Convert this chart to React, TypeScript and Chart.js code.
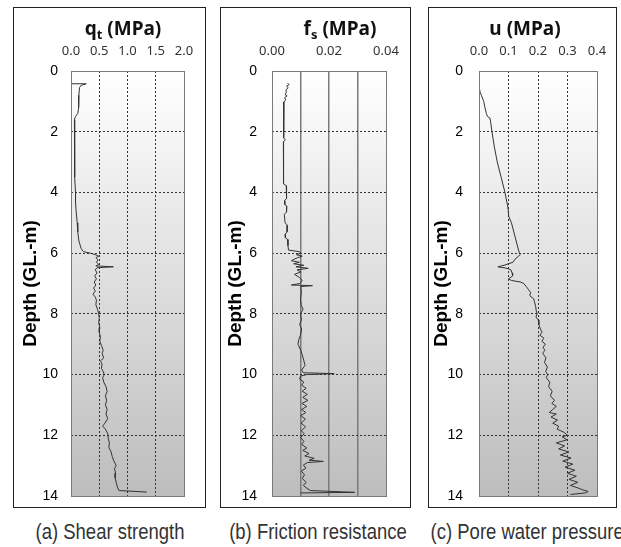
import React, { useEffect, useRef } from 'react';
import { Chart, registerables } from 'chart.js';

Chart.register(...registerables);

// Cone resistance q_t (MPa) against depth (m)
const qtDepth = [0.42, 0.42, 0.47, 0.55, 0.8, 1.0, 1.2, 1.4, 1.5, 1.6, 2.0, 2.5, 3.0, 3.5, 4.0, 4.3, 4.6, 5.0, 5.3, 5.6, 5.85, 5.95, 6.0, 6.05, 6.1, 6.15, 6.22, 6.3, 6.37, 6.42, 6.45, 6.48, 6.55, 6.65, 6.75, 6.85, 6.95, 7.05, 7.15, 7.25, 7.35, 7.45, 7.55, 7.7, 7.85, 8.0, 8.15, 8.3, 8.45, 8.6, 8.75, 8.9, 9.05, 9.2, 9.3, 9.45, 9.55, 9.65, 9.8, 9.9, 10.0, 10.1, 10.25, 10.4, 10.55, 10.7, 10.85, 11.0, 11.15, 11.3, 11.45, 11.6, 11.7, 11.8, 11.95, 12.1, 12.25, 12.4, 12.55, 12.7, 12.85, 13.0, 13.1, 13.25, 13.4, 13.55, 13.7, 13.82, 13.87];
const qtValue = [0.0, 0.27, 0.18, 0.15, 0.14, 0.14, 0.13, 0.12, 0.08, 0.06, 0.06, 0.06, 0.07, 0.07, 0.08, 0.08, 0.09, 0.11, 0.12, 0.14, 0.18, 0.22, 0.34, 0.43, 0.49, 0.44, 0.48, 0.45, 0.49, 0.44, 0.75, 0.46, 0.43, 0.46, 0.42, 0.45, 0.41, 0.44, 0.4, 0.43, 0.39, 0.43, 0.45, 0.44, 0.47, 0.49, 0.5, 0.49, 0.51, 0.5, 0.52, 0.51, 0.54, 0.57, 0.55, 0.58, 0.52, 0.55, 0.54, 0.57, 0.59, 0.56, 0.58, 0.62, 0.64, 0.61, 0.63, 0.61, 0.64, 0.62, 0.65, 0.6, 0.56, 0.61, 0.65, 0.66, 0.68, 0.67, 0.71, 0.73, 0.76, 0.8, 0.77, 0.79, 0.78, 0.8, 0.82, 0.85, 1.34];

// Sleeve friction f_s (MPa) against depth (m)
const fsDepth = [0.4, 0.45, 0.5, 0.55, 0.62, 0.7, 0.78, 0.82, 0.88, 0.95, 1.02, 1.5, 2.2, 2.27, 2.33, 3.0, 3.72, 3.78, 4.2, 4.27, 4.4, 4.45, 4.65, 4.72, 5.0, 5.08, 5.3, 5.38, 5.5, 5.55, 5.75, 5.9, 5.95, 6.0, 6.05, 6.1, 6.15, 6.2, 6.25, 6.3, 6.35, 6.4, 6.45, 6.5, 6.55, 6.62, 6.7, 6.8, 6.9, 7.0, 7.05, 7.07, 7.1, 7.3, 7.5, 7.7, 7.85, 8.0, 8.2, 8.35, 8.5, 8.7, 8.85, 9.0, 9.2, 9.35, 9.55, 9.7, 9.85, 9.94, 9.97, 10.0, 10.05, 10.15, 10.25, 10.35, 10.45, 10.55, 10.65, 10.75, 10.85, 10.95, 11.05, 11.15, 11.25, 11.35, 11.47, 11.6, 11.72, 11.85, 11.95, 12.07, 12.2, 12.3, 12.42, 12.5, 12.6, 12.68, 12.76, 12.82, 12.86, 12.9, 12.98, 13.08, 13.18, 13.3, 13.42, 13.55, 13.65, 13.75, 13.82, 13.88, 13.9];
const fsValue = [0.0055, 0.006, 0.0051, 0.0057, 0.0049, 0.005, 0.0046, 0.0053, 0.0044, 0.0048, 0.0042, 0.0041, 0.0041, 0.0047, 0.004, 0.004, 0.0041, 0.005, 0.0051, 0.0044, 0.0045, 0.0052, 0.0051, 0.0043, 0.0046, 0.0054, 0.0053, 0.0046, 0.0047, 0.0055, 0.0056, 0.0058, 0.0095, 0.0102, 0.0086, 0.0106, 0.009, 0.0078, 0.0068, 0.0096, 0.0076, 0.0112, 0.0084, 0.0127, 0.0088, 0.0101, 0.0079, 0.0096, 0.0106, 0.0098, 0.0068, 0.0142, 0.0101, 0.0103, 0.01, 0.0102, 0.0109, 0.01, 0.0103, 0.0097, 0.0104, 0.01, 0.0094, 0.0091, 0.0101, 0.0106, 0.0112, 0.0116, 0.0104, 0.011, 0.0218, 0.0122, 0.01, 0.0097, 0.0112, 0.0104, 0.012, 0.0106, 0.0124, 0.0108, 0.0126, 0.0105, 0.0122, 0.0104, 0.0119, 0.0101, 0.0117, 0.0102, 0.0118, 0.0103, 0.0113, 0.01, 0.0112, 0.0104, 0.0122, 0.0108, 0.013, 0.0115, 0.0148, 0.013, 0.018, 0.0124, 0.011, 0.0119, 0.0103, 0.0114, 0.0106, 0.012, 0.011, 0.0123, 0.0135, 0.029, 0.01];

// Pore water pressure u (MPa) against depth (m)
const uDepth = [0.52, 0.7, 0.8, 1.0, 1.2, 1.4, 1.5, 1.55, 1.65, 2.0, 2.5, 3.0, 3.5, 4.0, 4.5, 4.8, 5.0, 5.3, 5.6, 5.9, 6.05, 6.12, 6.2, 6.3, 6.4, 6.45, 6.5, 6.55, 6.65, 6.75, 6.85, 6.9, 6.95, 7.0, 7.1, 7.2, 7.3, 7.4, 7.5, 7.6, 7.75, 7.9, 8.0, 8.1, 8.2, 8.35, 8.5, 8.6, 8.7, 8.8, 8.9, 9.0, 9.1, 9.2, 9.3, 9.45, 9.6, 9.75, 9.9, 10.0, 10.1, 10.25, 10.4, 10.55, 10.7, 10.85, 10.95, 11.05, 11.15, 11.25, 11.3, 11.4, 11.5, 11.6, 11.7, 11.8, 11.9, 12.0, 12.05, 12.15, 12.25, 12.35, 12.45, 12.55, 12.65, 12.75, 12.85, 12.95, 13.05, 13.15, 13.25, 13.35, 13.45, 13.55, 13.65, 13.75, 13.8, 13.85, 13.9, 13.95];
const uValue = [0.0, 0.004, 0.008, 0.016, 0.02, 0.025, 0.029, 0.037, 0.039, 0.044, 0.052, 0.062, 0.075, 0.088, 0.098, 0.101, 0.11, 0.118, 0.126, 0.134, 0.139, 0.132, 0.122, 0.115, 0.085, 0.064, 0.095, 0.108, 0.112, 0.114, 0.1, 0.11, 0.14, 0.152, 0.16, 0.168, 0.175, 0.172, 0.185, 0.188, 0.192, 0.194, 0.197, 0.193, 0.201, 0.203, 0.208, 0.214, 0.206, 0.22, 0.213, 0.225, 0.217, 0.223, 0.216, 0.227, 0.222, 0.232, 0.226, 0.233, 0.228, 0.24, 0.236, 0.248, 0.242, 0.256, 0.247, 0.262, 0.25, 0.238, 0.262, 0.244, 0.266, 0.25, 0.27, 0.265, 0.288, 0.3, 0.282, 0.298, 0.262, 0.29, 0.27, 0.305, 0.276, 0.312, 0.284, 0.318, 0.292, 0.325, 0.3, 0.33, 0.305, 0.335, 0.31, 0.34, 0.352, 0.37, 0.36, 0.31];

const depthMax = 14;
const depthStep = 2;

const captions = ['(a) Shear strength', '(b) Friction resistance', '(c) Pore water pressure'];

type PanelSpec = {
  depth: number[];
  value: number[];
  xMax: number;
  xStep: number;
  decimals: number;
  labelEvery: number;
  solidVertical: boolean;
  box: { left: number; width: number };
  yWidth: number;
  padRight: number;
  yTickPad: number;
  yTitlePad: number;
};

const frame = {
  id: 'plotFrame',
  beforeDraw(chart: any) {
    const { ctx, chartArea: a } = chart;
    const g = ctx.createLinearGradient(0, a.top, 0, a.bottom);
    g.addColorStop(0, '#ffffff');
    g.addColorStop(1, '#bdbdbd');
    ctx.save();
    ctx.fillStyle = g;
    ctx.fillRect(a.left, a.top, a.right - a.left, a.bottom - a.top);
    ctx.restore();
  },
  afterDraw(chart: any) {
    const { ctx, chartArea: a } = chart;
    ctx.save();
    ctx.strokeStyle = '#7a7a7a';
    ctx.lineWidth = 1;
    ctx.strokeRect(Math.round(a.left) + 0.5, Math.round(a.top) + 0.5, Math.round(a.right - a.left), Math.round(a.bottom - a.top));
    ctx.restore();
  },
};

const BOX_TOP = 7;
const BOX_H = 501;

function Panel({ spec }: { spec: PanelSpec }) {
  const ref = useRef<HTMLCanvasElement>(null);
  const innerW = spec.box.width - 2;
  const innerH = BOX_H - 2;

  useEffect(() => {
    if (!ref.current) return;
    const edge = (c: any) => c.index === 0 || c.index === c.scale.ticks.length - 1;
    const chart = new Chart(ref.current, {
      type: 'scatter',
      data: {
        datasets: [
          {
            data: spec.depth.map((d, i) => ({ x: spec.value[i], y: d })),
            showLine: true,
            borderColor: '#333333',
            borderWidth: 1,
            pointRadius: 0,
            tension: 0,
          },
        ],
      },
      plugins: [frame],
      options: {
        animation: false,
        responsive: false,
        maintainAspectRatio: false,
        layout: { padding: { left: 0, top: 0, right: spec.padRight, bottom: 11 } },
        plugins: { legend: { display: false }, tooltip: { enabled: false } },
        scales: {
          x: {
            type: 'linear',
            position: 'top',
            min: 0,
            max: spec.xMax,
            afterFit: (s: any) => {
              s.height = 63;
              s.paddingLeft = 0;
              s.paddingRight = 0;
            },
            ticks: {
              stepSize: spec.xStep,
              autoSkip: false,
              maxRotation: 0,
              padding: 12,
              color: '#333',
              font: { family: "'Noto Sans', sans-serif", size: 13 },
              callback: (v: any, i: number) => (i % spec.labelEvery === 0 ? Number(v).toFixed(spec.decimals) : ''),
            },
            grid: {
              drawTicks: false,
              lineWidth: spec.solidVertical ? 1.5 : 1,
              color: (c: any) => (edge(c) ? 'rgba(0,0,0,0)' : spec.solidVertical ? '#7a7a7a' : '#333333'),
            },
            border: { display: false, dash: spec.solidVertical ? [] : [2, 2] },
          },
          y: {
            type: 'linear',
            reverse: true,
            min: 0,
            max: depthMax,
            afterFit: (s: any) => {
              s.width = spec.yWidth;
              s.paddingTop = 0;
              s.paddingBottom = 0;
            },
            ticks: {
              stepSize: depthStep,
              padding: spec.yTickPad,
              color: '#000',
              font: { family: "'Liberation Sans', Arial, sans-serif", size: 14 },
            },
            title: {
              display: true,
              text: 'Depth (GL.-m)',
              color: '#000',
              padding: { top: spec.yTitlePad, bottom: 0 },
              font: { family: "'Liberation Sans', Arial, sans-serif", size: 19, weight: 'bold' },
            },
            grid: {
              drawTicks: false,
              lineWidth: 1,
              color: (c: any) => (edge(c) ? 'rgba(0,0,0,0)' : '#333333'),
            },
            border: { display: false, dash: [2, 2] },
          },
        },
      },
    } as any);
    return () => chart.destroy();
  }, []);

  return (
    <div
      style={{
        position: 'absolute',
        left: spec.box.left,
        top: BOX_TOP,
        width: spec.box.width,
        height: BOX_H,
        boxSizing: 'border-box',
        border: '1px solid #222',
        background: '#fff',
      }}
    >
      <canvas ref={ref} width={innerW} height={innerH} style={{ position: 'absolute', left: 0, top: 0, width: innerW, height: innerH }} />
    </div>
  );
}

const panels: PanelSpec[] = [
  { depth: qtDepth, value: qtValue, xMax: 2.0, xStep: 0.5, decimals: 1, labelEvery: 1, solidVertical: false, box: { left: 13, width: 193 }, yWidth: 57, padRight: 21, yTickPad: 13, yTitlePad: 5 },
  { depth: fsDepth, value: fsValue, xMax: 0.04, xStep: 0.01, decimals: 2, labelEvery: 2, solidVertical: true, box: { left: 220, width: 191 }, yWidth: 51, padRight: 24, yTickPad: 15, yTitlePad: 3 },
  { depth: uDepth, value: uValue, xMax: 0.4, xStep: 0.1, decimals: 1, labelEvery: 1, solidVertical: false, box: { left: 428, width: 189 }, yWidth: 50, padRight: 19, yTickPad: 16, yTitlePad: 1 },
];

const titleStyle = (cx: number): React.CSSProperties => ({
  position: 'absolute',
  left: cx - 70,
  width: 140,
  top: 16,
  lineHeight: '24px',
  textAlign: 'center',
  fontFamily: "'Noto Sans', sans-serif",
  fontWeight: 'bold',
  fontSize: 19,
  color: '#111',
  whiteSpace: 'nowrap',
});

const subStyle: React.CSSProperties = { fontSize: 13, verticalAlign: 'baseline', position: 'relative', top: 4 };

const captionCenters = [110, 318, 523];

export default function App() {
  return (
    <div style={{ position: 'absolute', left: 0, top: 0, width: 621, height: 547, background: '#fff', overflow: 'hidden' }}>
      {panels.map((p, i) => (
        <Panel key={i} spec={p} />
      ))}
      <div style={titleStyle(123)}>
        q<span style={subStyle}>t</span>&nbsp;(MPa)
      </div>
      <div style={titleStyle(340)}>
        f<span style={subStyle}>s</span>&nbsp;(MPa)
      </div>
      <div style={titleStyle(525)}>u&nbsp;(MPa)</div>
      {captions.map((c, i) => (
        <div
          key={c}
          style={{
            position: 'absolute',
            left: captionCenters[i] - 110,
            width: 220,
            top: 519,
            lineHeight: '26px',
            textAlign: 'center',
            fontFamily: "'Liberation Sans', Arial, sans-serif",
            fontSize: 22,
            color: '#333',
            whiteSpace: 'nowrap',
            transform: 'scaleX(0.84)',
          }}
        >
          {c}
        </div>
      ))}
    </div>
  );
}
